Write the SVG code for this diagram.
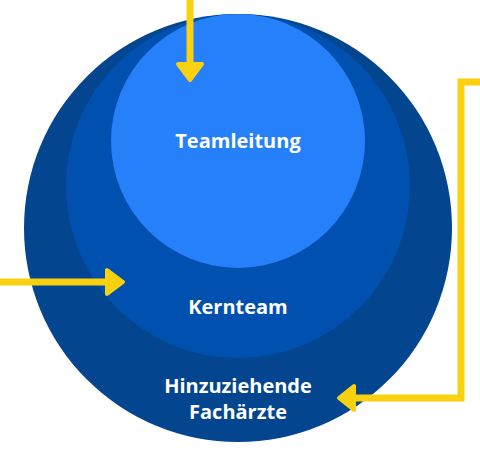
<svg xmlns="http://www.w3.org/2000/svg" width="480" height="450" viewBox="0 0 480 450">
  <style>
    .lbl { font-family: "Open Sans", "Noto Sans", "Liberation Sans", sans-serif; font-weight: 700; font-size: 20px; fill: #ffffff; text-anchor: middle; }
    .wire { fill: none; stroke: #FAD10F; stroke-width: 7; stroke-linejoin: miter; }
    .head { fill: #FAD10F; stroke: #FAD10F; stroke-width: 4; stroke-linejoin: round; }
  </style>
  <rect width="480" height="450" fill="#ffffff"/>
  <g id="fachaerzte">
    <circle cx="238" cy="228" r="214" fill="#03468F"/>
    <text class="lbl" x="238" y="393">Hinzuziehende</text>
    <text class="lbl" x="238" y="419">Fachärzte</text>
  </g>
  <g id="kernteam">
    <circle cx="238" cy="186" r="172" fill="#0050B0"/>
    <text class="lbl" x="238" y="314">Kernteam</text>
  </g>
  <g id="teamleitung">
    <circle cx="238" cy="141" r="127" fill="#2680FA"/>
    <text class="lbl" x="238" y="148">Teamleitung</text>
  </g>
  <g id="connectors">
    <line class="wire" x1="190" y1="0" x2="190" y2="66"/>
    <polygon class="head" points="178,64 202,64 190,80"/>
    <line class="wire" x1="0" y1="282" x2="109" y2="282"/>
    <polygon class="head" points="107,270 107,294 123,282"/>
    <polyline class="wire" points="480,82 461,82 461,398 352,398"/>
    <polygon class="head" points="354,386 354,410 339,398"/>
  </g>
</svg>
